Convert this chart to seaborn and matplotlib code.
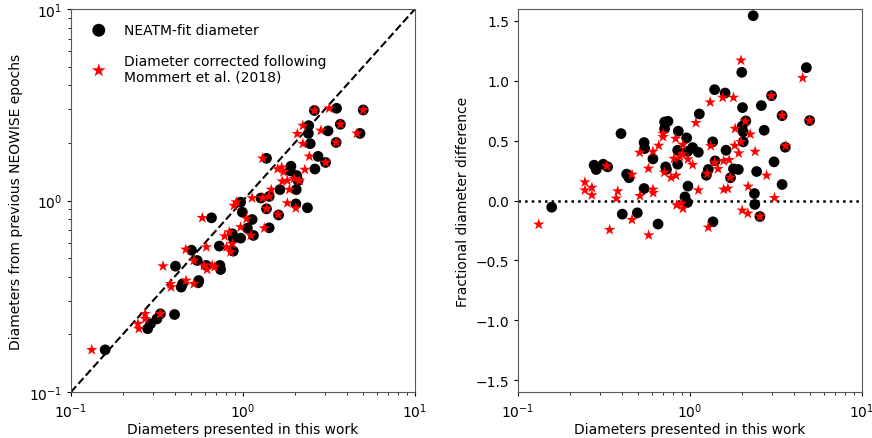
import numpy as np
import pandas as pd
import matplotlib
matplotlib.use("Agg")
import matplotlib.pyplot as plt
import seaborn as sns

# ---- Left panel: NEATM-fit diameters (x) vs previous NEOWISE diameters (y)
left_black_x = [0.158, 0.279, 0.29, 0.316, 0.331, 0.40, 0.405, 0.437, 0.445, 0.502,
                0.542, 0.549, 0.553, 0.611, 0.656, 0.728, 0.734, 0.741, 0.867, 0.878,
                0.878, 0.969, 0.969, 0.991, 1.06, 1.13, 1.15, 1.27, 1.37, 1.37,
                1.42, 1.42, 1.64, 1.61, 1.90, 1.88, 2.05, 2.09, 2.04, 2.03,
                2.37, 2.40, 2.46, 2.41, 2.62, 2.73, 2.60, 3.12, 3.5, 3.68,
                3.48, 4.79, 5.0, 3.02]
left_black_y = [0.166, 0.214, 0.227, 0.241, 0.256, 0.254, 0.454, 0.353, 0.367, 0.55,
                0.486, 0.372, 0.382, 0.458, 0.812, 0.578, 0.458, 0.436, 0.67, 0.544,
                0.636, 0.636, 0.98, 0.869, 0.717, 0.796, 0.657, 1.03, 1.66, 0.905,
                0.72, 1.05, 1.14, 0.84, 1.51, 1.43, 1.35, 1.27, 1.14, 0.96,
                0.916, 2.24, 1.98, 2.46, 1.46, 1.70, 2.95, 2.31, 3.03, 2.50,
                2.01, 2.24, 2.97, 1.58]

# Corrected diameters (x) vs previous NEOWISE diameters (y)
left_red_x = [0.132, 0.245, 0.248, 0.27, 0.27, 0.33, 0.343, 0.379, 0.382, 0.465,
              0.467, 0.518, 0.518, 0.58, 0.593, 0.613, 0.619, 0.662, 0.684, 0.782,
              0.803, 0.832, 0.847, 0.867, 0.886, 0.914, 0.969, 1.05, 1.11, 1.13,
              1.30, 1.33, 1.37, 1.42, 1.46, 1.60, 1.59, 1.68, 1.72, 1.69,
              1.81, 1.86, 1.81, 1.98, 2.03, 2.07, 2.13, 2.23, 2.23, 2.29,
              2.43, 2.60, 2.84, 3.03, 3.17, 3.48, 3.68, 4.60, 5.0, 1.30]
left_red_y = [0.166, 0.227, 0.214, 0.256, 0.241, 0.256, 0.454, 0.367, 0.353, 0.555,
              0.382, 0.486, 0.367, 0.812, 0.458, 0.571, 0.436, 0.458, 0.45, 0.651,
              0.571, 0.684, 0.538, 0.594, 0.94, 0.98, 0.726, 0.803, 0.657, 1.03,
              1.66, 0.717, 0.905, 1.05, 1.14, 0.845, 1.46, 1.49, 1.41, 1.26,
              1.27, 1.14, 0.97, 1.30, 0.912, 2.23, 1.27, 1.98, 2.46, 1.45,
              1.70, 2.95, 2.32, 1.58, 3.03, 2.01, 2.50, 2.24, 2.97, 1.03]

# ---- Right panel: fractional diameter difference
right_black_x = [0.157, 0.277, 0.285, 0.313, 0.332, 0.397, 0.404, 0.428, 0.442, 0.494,
                 0.541, 0.545, 0.541, 0.609, 0.652, 0.712, 0.745, 0.712, 0.722, 0.73,
                 0.855, 0.848, 0.848, 0.956, 0.97, 0.973, 0.935, 0.965, 1.036, 1.118,
                 1.133, 1.245, 1.278, 1.36, 1.355, 1.39, 1.40, 1.60, 1.62, 1.72,
                 1.79, 1.91, 2.0, 2.02, 2.01, 2.04, 2.11, 2.04, 2.33, 2.37,
                 2.38, 2.44, 2.55, 2.60, 2.70, 2.98, 3.08, 3.43, 3.43, 3.58,
                 4.75, 4.96]
right_black_y = [-0.056, 0.295, 0.259, 0.303, 0.281, 0.559, -0.114, 0.22, 0.19, -0.103,
                 0.484, 0.434, 0.10, 0.348, -0.197, 0.656, 0.662, 0.60, 0.281, 0.26,
                 0.579, 0.42, 0.303, 0.523, 0.41, 0.12, 0.03, -0.017, 0.442, 0.403,
                 0.723, 0.211, 0.259, -0.178, 0.49, 0.926, 0.331, 0.898, 0.42, 0.19,
                 0.264, 0.259, 1.071, 0.776, 0.62, 0.573, 0.665, 0.49, 1.544, 0.058,
                 -0.033, 0.242, -0.134, 0.793, 0.587, 0.876, 0.323, 0.709, 0.134, 0.445,
                 1.11, 0.668]

right_red_x = [0.132, 0.245, 0.245, 0.269, 0.269, 0.328, 0.341, 0.373, 0.38, 0.46,
               0.46, 0.51, 0.512, 0.573, 0.575, 0.609, 0.609, 0.611, 0.658, 0.697,
               0.697, 0.709, 0.776, 0.807, 0.825, 0.83, 0.836, 0.875, 0.902, 0.91,
               0.89, 0.91, 0.973, 1.036, 1.083, 1.118, 1.26, 1.278, 1.31, 1.32,
               1.39, 1.455, 1.55, 1.57, 1.57, 1.66, 1.69, 1.71, 1.79, 1.83,
               1.82, 1.92, 1.98, 1.98, 2.01, 2.10, 2.17, 2.18, 2.24, 2.39,
               2.55, 2.79, 2.97, 3.10, 3.43, 3.6, 4.52, 4.96]
right_red_y = [-0.20, 0.153, 0.086, 0.108, 0.045, 0.287, -0.245, 0.017, 0.078, 0.217,
               -0.161, 0.40, 0.039, 0.267, -0.29, 0.409, 0.092, 0.064, 0.459, 0.559,
               0.531, 0.234, 0.192, 0.35, 0.517, 0.209, -0.039, 0.367, 0.387, 0.467,
               -0.025, -0.067, 0.345, 0.298, 0.648, 0.086, 0.225, -0.225, 0.821, 0.456,
               0.317, 0.264, 0.86, 0.331, 0.092, 0.10, 0.339, 0.192, 0.86, 0.60,
               0.459, 0.395, 1.171, 0.49, -0.083, 0.662, -0.108, 0.117, 0.553, 0.409,
               -0.134, 0.209, 0.873, 0.022, 0.709, 0.456, 1.024, 0.668]

lb = pd.DataFrame({"x": left_black_x, "y": left_black_y})
lr = pd.DataFrame({"x": left_red_x, "y": left_red_y})
rb = pd.DataFrame({"x": right_black_x, "y": right_black_y})
rr = pd.DataFrame({"x": right_red_x, "y": right_red_y})

plt.rcParams["font.family"] = ["DejaVu Sans"]
plt.rcParams["font.size"] = 10
plt.rcParams["axes.edgecolor"] = "0.35"
plt.rcParams["xtick.major.size"] = 3
plt.rcParams["ytick.major.size"] = 3
plt.rcParams["xtick.minor.size"] = 2
plt.rcParams["ytick.minor.size"] = 2

fig = plt.figure(figsize=(8.72, 4.39), dpi=100)
ax1 = fig.add_axes([71 / 872, 46 / 439, 344 / 872, 383 / 439])
ax2 = fig.add_axes([518 / 872, 46 / 439, 344 / 872, 383 / 439])

circ_s = 60
star_s = 75

# Left panel
ax1.plot([0.1, 10], [0.1, 10], "k--", lw=1.5, zorder=1)
sns.scatterplot(data=lb, x="x", y="y", ax=ax1, color="black", marker="o",
                s=circ_s, edgecolor="none", label="NEATM-fit diameter", zorder=2)
sns.scatterplot(data=lr, x="x", y="y", ax=ax1, color="red", marker="*",
                s=star_s, edgecolor="none",
                label="Diameter corrected following\nMommert et al. (2018)", zorder=3)
ax1.set_xscale("log")
ax1.set_yscale("log")
ax1.set_xlim(0.1, 10)
ax1.set_ylim(0.1, 10)
ax1.set_xlabel("Diameters presented in this work", labelpad=2)
ax1.set_ylabel("Diameters from previous NEOWISE epochs")
ax1.legend(loc="upper left", frameon=False, fontsize=10, labelspacing=1.2,
           handletextpad=0.8, markerscale=1.2, borderaxespad=0.6)

# Right panel
ax2.axhline(0, color="black", ls=":", lw=1.8, zorder=1)
sns.scatterplot(data=rb, x="x", y="y", ax=ax2, color="black", marker="o",
                s=circ_s, edgecolor="none", zorder=2, legend=False)
sns.scatterplot(data=rr, x="x", y="y", ax=ax2, color="red", marker="*",
                s=star_s, edgecolor="none", zorder=3, legend=False)
ax2.set_xscale("log")
ax2.set_xlim(0.1, 10)
ax2.set_ylim(-1.6, 1.6)
ax2.set_yticks([-1.5, -1.0, -0.5, 0.0, 0.5, 1.0, 1.5])
ax2.set_xlabel("Diameters presented in this work", labelpad=2)
ax2.set_ylabel("Fractional diameter difference")

fig.savefig("out.png", dpi=100)
